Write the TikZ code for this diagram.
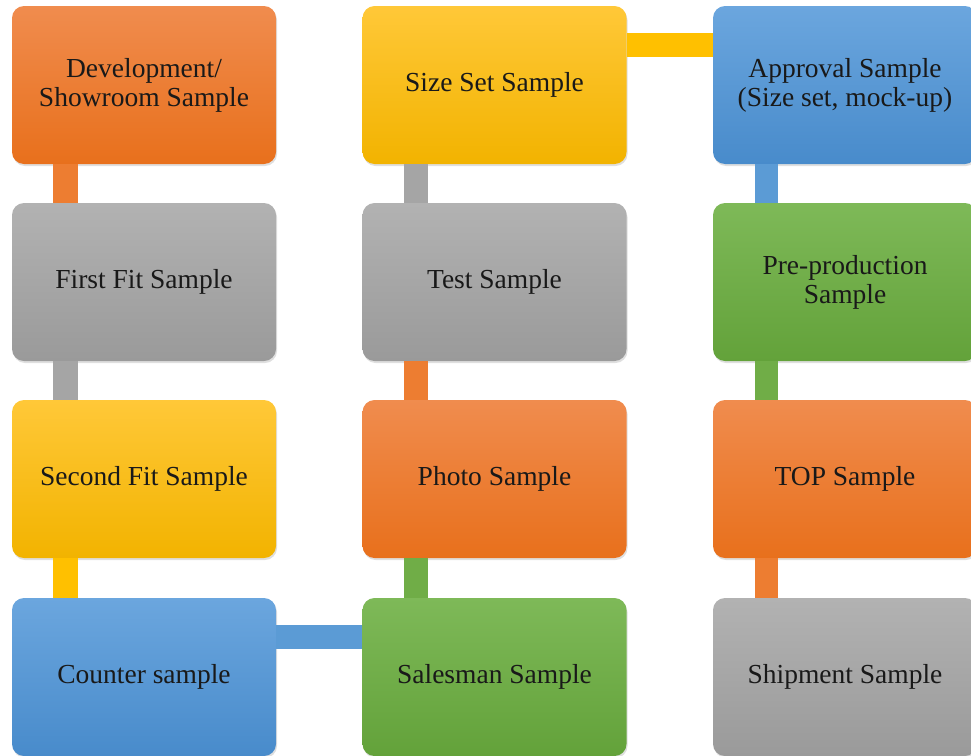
\documentclass[tikz,border=0pt]{standalone}
\usepackage{fontspec}
\setmainfont{Liberation Serif}
\usetikzlibrary{shadows,backgrounds}
\definecolor{orT}{HTML}{F08C4E}\definecolor{orB}{HTML}{E8701C}
\definecolor{grT}{HTML}{B2B2B2}\definecolor{grB}{HTML}{9A9A9A}
\definecolor{yeT}{HTML}{FFC838}\definecolor{yeB}{HTML}{F2B300}
\definecolor{blT}{HTML}{6BA6DE}\definecolor{blB}{HTML}{488BCB}
\definecolor{gnT}{HTML}{7EB958}\definecolor{gnB}{HTML}{63A23A}
\definecolor{orC}{HTML}{ED7D31}\definecolor{grC}{HTML}{A5A5A5}
\definecolor{yeC}{HTML}{FFC000}\definecolor{blC}{HTML}{5B9BD5}
\definecolor{gnC}{HTML}{70AD47}
\tikzset{
  sbox/.style={rounded corners=12pt, minimum width=264pt, minimum height=158pt,
    inner sep=0pt, align=center, font=\fontsize{27.5}{29}\selectfont, text=black!90,
    execute at begin node={\vspace*{6pt}},
    drop shadow={opacity=0.25, shadow xshift=1pt, shadow yshift=-2pt}},
  sor/.style={sbox, top color=orT, bottom color=orB},
  sgr/.style={sbox, top color=grT, bottom color=grB},
  sye/.style={sbox, top color=yeT, bottom color=yeB},
  sbl/.style={sbox, top color=blT, bottom color=blB},
  sgn/.style={sbox, top color=gnT, bottom color=gnB},
}
\begin{document}
\begin{tikzpicture}[x=1pt,y=-1pt]
\useasboundingbox (0,0) rectangle (971,755);
\clip (0,0) rectangle (971,755);
\node[sor] (dev) at (144,85) {Development/\\Showroom Sample};
\node[sgr] (ff) at (144,282) {First Fit Sample};
\node[sye] (sf) at (144,479) {Second Fit Sample};
\node[sbl] (cs) at (144,677) {Counter sample};
\node[sgn] (ss) at (494.5,677) {Salesman Sample};
\node[sor] (ps) at (494.5,479) {Photo Sample};
\node[sgr] (ts) at (494.5,282) {Test Sample};
\node[sye] (zs) at (494.5,85) {Size Set Sample};
\node[sbl] (ap) at (845,85) {Approval Sample\\(Size set, mock-up)};
\node[sgn] (pp) at (845,282) {Pre-production\\Sample};
\node[sor] (tp) at (845,479) {TOP Sample};
\node[sgr] (sh) at (845,677) {Shipment Sample};
% connectors
\fill[orC] ([xshift=41pt]dev.south west) rectangle ([xshift=66pt]ff.north west);
\fill[grC] ([xshift=41pt]ff.south west) rectangle ([xshift=66pt]sf.north west);
\fill[yeC] ([xshift=41pt]sf.south west) rectangle ([xshift=66pt]cs.north west);
\fill[blC] ([yshift=-27pt]cs.north east) rectangle ([yshift=-51pt]ss.north west);
\fill[gnC] ([xshift=42pt]ps.south west) rectangle ([xshift=66pt]ss.north west);
\fill[orC] ([xshift=42pt]ts.south west) rectangle ([xshift=66pt]ps.north west);
\fill[grC] ([xshift=42pt]zs.south west) rectangle ([xshift=66pt]ts.north west);
\fill[yeC] ([yshift=-27pt]zs.north east) rectangle ([yshift=-51pt]ap.north west);
\fill[blC] ([xshift=42pt]ap.south west) rectangle ([xshift=65pt]pp.north west);
\fill[gnC] ([xshift=42pt]pp.south west) rectangle ([xshift=65pt]tp.north west);
\fill[orC] ([xshift=42pt]tp.south west) rectangle ([xshift=65pt]sh.north west);
\end{tikzpicture}
\end{document}
